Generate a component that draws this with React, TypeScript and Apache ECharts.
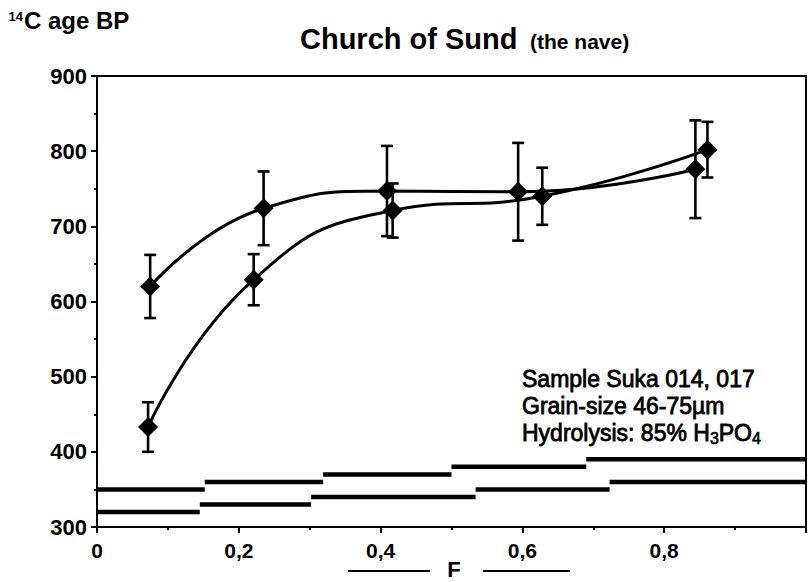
import React, { useEffect, useRef } from "react";
import * as echarts from "echarts";

// ---- data ----
const seriesA_F = [0.075, 0.235, 0.409, 0.594, 0.844];
const seriesA_age = [620, 724, 747, 746, 776];
const seriesA_err = [42, 49, 60, 65, 65];

const seriesB_F = [0.072, 0.221, 0.417, 0.628, 0.861];
const seriesB_age = [433, 629, 721, 740, 802];
const seriesB_err = [33, 34, 36, 38, 37];

// horizontal reference steps (F boundaries, ages)
const upperStepF = [0, 0.152, 0.319, 0.5, 0.69, 1.0];
const upperStepAge = [350, 360, 370, 380, 390];
const lowerStepF = [0, 0.145, 0.302, 0.534, 0.723, 1.0];
const lowerStepAge = [320, 330, 340, 350, 360];

const xTicks = [0, 0.2, 0.4, 0.6, 0.8, 1.0];
const yTicks = [300, 400, 500, 600, 700, 800, 900];

const titleMain = "Church of Sund";
const titleSub = "(the nave)";
const yTitleSup = "14";
const yTitleMain = "C age BP";
const xTitle = "F";
const noteLines = ["Sample Suka 014, 017", "Grain-size 46-75µm", "Hydrolysis: 85% H{s|3}PO{s|4}"];

const FONT = "Liberation Sans";

export default function App() {
  const ref = useRef<HTMLDivElement>(null);

  useEffect(() => {
    document.body.style.margin = "0";
    if (!ref.current) return;
    const chart = echarts.init(ref.current, undefined, { renderer: "svg" });

    const pts = (F: number[], A: number[]) => F.map((f, i) => [f, A[i]]);
    const errs = (F: number[], A: number[], E: number[]) =>
      F.map((f, i) => [f, A[i] - E[i], A[i] + E[i]]);
    const steps = (F: number[], A: number[]) =>
      A.map((a, i) => [F[i], F[i + 1], a]);

    const errRender = (params: any, api: any) => {
      const lo = api.coord([api.value(0), api.value(1)]);
      const hi = api.coord([api.value(0), api.value(2)]);
      const hw = 6;
      const st = { stroke: "#000", lineWidth: 2.6 };
      return {
        type: "group",
        children: [
          { type: "line", shape: { x1: lo[0], y1: lo[1], x2: hi[0], y2: hi[1] }, style: st },
          { type: "line", shape: { x1: lo[0] - hw, y1: lo[1], x2: lo[0] + hw, y2: lo[1] }, style: st },
          { type: "line", shape: { x1: hi[0] - hw, y1: hi[1], x2: hi[0] + hw, y2: hi[1] }, style: st },
        ],
      };
    };

    const stepRender = (params: any, api: any) => {
      const p0 = api.coord([api.value(0), api.value(2)]);
      const p1 = api.coord([api.value(1), api.value(2)]);
      return {
        type: "line",
        shape: { x1: p0[0], y1: p0[1], x2: p1[0], y2: p1[1] },
        style: { stroke: "#000", lineWidth: 4.5 },
      };
    };

    const fmtX = (v: number) => {
      const r = Number(v.toFixed(1));
      if (r >= 1) return "";
      return String(r).replace(".", ",");
    };

    const axisCommon = {
      axisLine: { show: true, lineStyle: { color: "#000", width: 2 } },
      axisTick: { show: true, inside: false, length: 6, lineStyle: { color: "#000", width: 2 } },
      minorTick: { show: true, splitNumber: 2, length: 3, lineStyle: { color: "#000", width: 2 } },
      splitLine: { show: false },
      minorSplitLine: { show: false },
    };

    const lineSeries = (F: number[], A: number[]) => ({
      type: "line",
      data: pts(F, A),
      smooth: 0.5,
      symbol: "diamond",
      symbolSize: 20,
      itemStyle: { color: "#000" },
      lineStyle: { color: "#000", width: 3 },
      z: 5,
    });

    chart.setOption({
      animation: false,
      backgroundColor: "#fff",
      textStyle: { fontFamily: FONT },
      grid: {
        left: 97,
        top: 76,
        width: 717,
        height: 451,
        show: true,
        borderColor: "#000",
        borderWidth: 2,
        backgroundColor: "transparent",
        containLabel: false,
      },
      xAxis: {
        type: "value",
        min: xTicks[0],
        max: xTicks[xTicks.length - 1],
        interval: 0.2,
        ...axisCommon,
        axisLabel: {
          formatter: fmtX,
          color: "#000",
          fontFamily: FONT,
          fontWeight: "bold",
          fontSize: 21,
          margin: 13,
        },
      },
      yAxis: {
        type: "value",
        min: yTicks[0],
        max: yTicks[yTicks.length - 1],
        interval: 100,
        ...axisCommon,
        axisLabel: {
          color: "#000",
          fontFamily: FONT,
          fontWeight: "bold",
          fontSize: 22,
          margin: 10,
        },
      },
      series: [
        { type: "custom", renderItem: stepRender, data: steps(upperStepF, upperStepAge), z: 2, clip: false },
        { type: "custom", renderItem: stepRender, data: steps(lowerStepF, lowerStepAge), z: 2, clip: false },
        { type: "custom", renderItem: errRender, data: errs(seriesA_F, seriesA_age, seriesA_err), z: 3 },
        { type: "custom", renderItem: errRender, data: errs(seriesB_F, seriesB_age, seriesB_err), z: 3 },
        lineSeries(seriesA_F, seriesA_age),
        lineSeries(seriesB_F, seriesB_age),
      ],
      graphic: [
        {
          type: "text",
          style: {
            text: titleMain, x: 300, y: 38.5, fill: "#000",
            fontFamily: FONT, fontWeight: "bold", fontSize: 29,
            textAlign: "left", textVerticalAlign: "middle",
          },
        },
        {
          type: "text",
          style: {
            text: titleSub, x: 530, y: 41.5, fill: "#000",
            fontFamily: FONT, fontWeight: "bold", fontSize: 21,
            textAlign: "left", textVerticalAlign: "middle",
          },
        },
        {
          type: "text",
          style: {
            text: yTitleSup, x: 23, y: 16, fill: "#000",
            fontFamily: FONT, fontWeight: "bold", fontSize: 13,
            textAlign: "right", textVerticalAlign: "middle",
          },
        },
        {
          type: "text",
          style: {
            text: yTitleMain, x: 24, y: 20.5, fill: "#000",
            fontFamily: FONT, fontWeight: "bold", fontSize: 24,
            textAlign: "left", textVerticalAlign: "middle",
          },
        },
        {
          type: "text",
          style: {
            text: xTitle, x: 454, y: 569, fill: "#000",
            fontFamily: FONT, fontWeight: "bold", fontSize: 22,
            textAlign: "center", textVerticalAlign: "middle",
          },
        },
        { type: "line", shape: { x1: 348, y1: 571, x2: 430, y2: 571 }, style: { stroke: "#000", lineWidth: 2 } },
        { type: "line", shape: { x1: 483, y1: 571, x2: 570, y2: 571 }, style: { stroke: "#000", lineWidth: 2 } },
        {
          type: "text",
          style: {
            text: noteLines.join("\n"), x: 522, y: 406, fill: "#000",
            fontFamily: FONT, fontWeight: "normal", fontSize: 23, lineHeight: 27,
            textAlign: "left", textVerticalAlign: "middle",
            stroke: "#000", lineWidth: 0.8,
            rich: {
              s: { fontFamily: FONT, fontSize: 16, lineHeight: 16, verticalAlign: "bottom", fill: "#000", stroke: "#000", lineWidth: 0.6 },
            },
          },
        },
      ],
    });

    return () => chart.dispose();
  }, []);

  return <div ref={ref} style={{ width: 809, height: 582 }} />;
}
